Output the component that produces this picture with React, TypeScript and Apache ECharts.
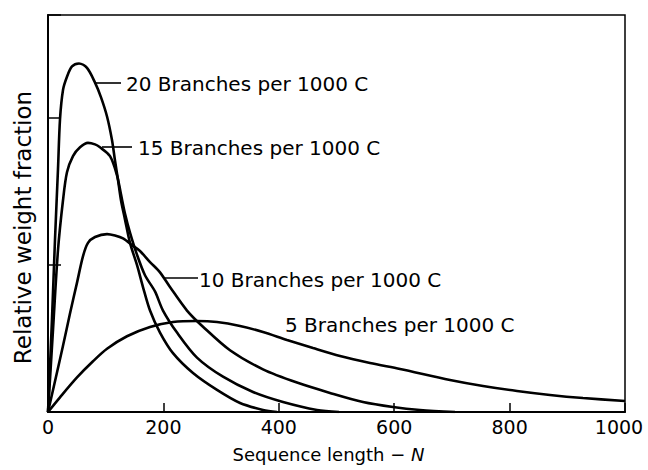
import React, { useEffect, useRef } from "react";
import * as echarts from "echarts";

// Sequence length N vs relative weight fraction (arbitrary units)
const branches20: [number, number][] = [
  [0, 0], [6.9, 0.63], [12.1, 1.17], [17.3, 1.65], [20.8, 1.99], [26.0, 2.19],
  [32.9, 2.28], [41.6, 2.35], [53.7, 2.37], [67.6, 2.34], [81.5, 2.24], [91.9, 2.14],
  [102.3, 2.01], [110.9, 1.85], [116.1, 1.71], [121.3, 1.58], [126.5, 1.44],
  [133.4, 1.31], [142.1, 1.15], [154.2, 1.0], [164.6, 0.85], [176.8, 0.69],
  [194.1, 0.54], [216.6, 0.4], [251.3, 0.265], [292.9, 0.15], [332.8, 0.061],
  [372.6, 0.014], [396.9, 0],
];

const branches15: [number, number][] = [
  [0, 0], [8.7, 0.56], [17.3, 1.1], [26.0, 1.44], [32.9, 1.63], [43.3, 1.74],
  [55.5, 1.8], [69.3, 1.83], [81.5, 1.82], [90.1, 1.8], [107.5, 1.74], [119.6, 1.61],
  [126.5, 1.48], [133.4, 1.35], [142.1, 1.22], [154.2, 1.07], [168.1, 0.93],
  [185.4, 0.82], [199.3, 0.69], [223.6, 0.54], [258.2, 0.37], [303.3, 0.24],
  [355.3, 0.136], [407.3, 0.068], [466.2, 0.014], [504.3, 0],
];

const branches10: [number, number][] = [
  [0, 0], [13.9, 0.24], [26.0, 0.45], [38.1, 0.67], [50.3, 0.88], [60.7, 1.06],
  [69.3, 1.15], [81.5, 1.19], [102.3, 1.21], [116.1, 1.2], [130.0, 1.18],
  [147.3, 1.13], [159.4, 1.095], [176.8, 1.02], [194.1, 0.95], [211.4, 0.85],
  [240.9, 0.69], [268.6, 0.58], [315.4, 0.42], [372.6, 0.29], [431.5, 0.2],
  [488.7, 0.13], [545.9, 0.068], [597.9, 0.034], [644.7, 0.014], [705.4, 0],
];

const branches5: [number, number][] = [
  [0, 0], [20.8, 0.1], [50.3, 0.235], [78.0, 0.345], [102.3, 0.43], [136.9, 0.515],
  [176.8, 0.578], [216.6, 0.612], [258.2, 0.619], [292.9, 0.612], [332.8, 0.585],
  [372.6, 0.544], [414.2, 0.49], [459.3, 0.435], [506.1, 0.381], [558.1, 0.333],
  [610.1, 0.292], [696.7, 0.218], [753.9, 0.177], [812.8, 0.143], [870.0, 0.116],
  [927.2, 0.095], [1000, 0.075],
];

const seriesNames = [
  "20 Branches per 1000 C",
  "15 Branches per 1000 C",
  "10 Branches per 1000 C",
  "5 Branches per 1000 C",
];
const seriesData = [branches20, branches15, branches10, branches5];

const xAxisTitle = "Sequence length − ";
const xAxisVar = "N";
const yAxisTitle = "Relative weight fraction";

const FONT = "DejaVu Sans";

export default function App() {
  const ref = useRef<HTMLDivElement>(null);

  useEffect(() => {
    document.body.style.margin = "0";
    if (!ref.current) return;
    const chart = echarts.init(ref.current, undefined, { renderer: "svg" });

    const labelPos = [
      { line: [95, 83, 121, 83], x: 126, y: 84 },
      { line: [102, 147, 132, 147], x: 138, y: 148 },
      { line: [165, 278, 198, 278], x: 199, y: 279.5 },
      { line: null, x: 285, y: 324.5 },
    ];

    const graphic: any[] = [];
    labelPos.forEach((p, i) => {
      if (p.line) {
        graphic.push({
          type: "line",
          shape: { x1: p.line[0], y1: p.line[1], x2: p.line[2], y2: p.line[3] },
          style: { stroke: "#000", lineWidth: 1.6 },
          silent: true,
        });
      }
      graphic.push({
        type: "text",
        x: p.x,
        y: p.y,
        style: {
          text: seriesNames[i],
          fill: "#000",
          font: `20px "${FONT}"`,
          textAlign: "left",
          textVerticalAlign: "middle",
        },
        silent: true,
      });
    });

    chart.setOption({
      animation: false,
      backgroundColor: "#fff",
      grid: {
        left: 48,
        right: 23,
        top: 15,
        bottom: 58,
        show: true,
        borderColor: "#000",
        borderWidth: 1.5,
        containLabel: false,
        outerBoundsMode: "none",
      },
      xAxis: {
        type: "value",
        min: 0,
        max: 1000,
        interval: 200,
        name: `${xAxisTitle}{i|${xAxisVar}}`,
        nameLocation: "middle",
        nameGap: 33,
        nameTextStyle: {
          fontFamily: FONT,
          fontSize: 18,
          color: "#000",
          padding: [0, 16, 0, 0],
          rich: { i: { fontStyle: "italic", fontFamily: FONT, fontSize: 18, color: "#000" } },
        },
        axisLine: { show: true, lineStyle: { color: "#000", width: 2 } },
        axisTick: { show: true, inside: true, length: 9, lineStyle: { color: "#000", width: 1.5 } },
        axisLabel: {
          color: "#000",
          fontFamily: FONT,
          fontSize: 19,
          margin: 5,
          formatter: (v: number) => (v === 1000 ? `{m|${v}}` : String(v)),
          rich: {
            m: { fontFamily: FONT, fontSize: 19, color: "#000", padding: [0, 12, 0, 0] },
          },
        },
        splitLine: { show: false },
      },
      yAxis: {
        type: "value",
        min: 0,
        max: 2.7,
        interval: 1,
        name: yAxisTitle,
        nameLocation: "middle",
        nameGap: 14,
        nameTextStyle: {
          fontFamily: FONT,
          fontSize: 23,
          color: "#000",
          padding: [0, 28, 0, 0],
        },
        axisLine: { show: true, lineStyle: { color: "#000", width: 2 } },
        axisTick: { show: true, inside: true, length: 13, lineStyle: { color: "#000", width: 1.5 } },
        axisLabel: { show: false },
        splitLine: { show: false },
      },
      series: seriesData.map((d, i) => ({
        name: seriesNames[i],
        type: "line",
        data: d,
        showSymbol: false,
        symbol: "none",
        smooth: 0.3,
        lineStyle: { color: "#000", width: 2.6 },
        z: 3,
      })),
      graphic,
    });

    return () => chart.dispose();
  }, []);

  return <div ref={ref} style={{ width: 648, height: 470 }} />;
}
